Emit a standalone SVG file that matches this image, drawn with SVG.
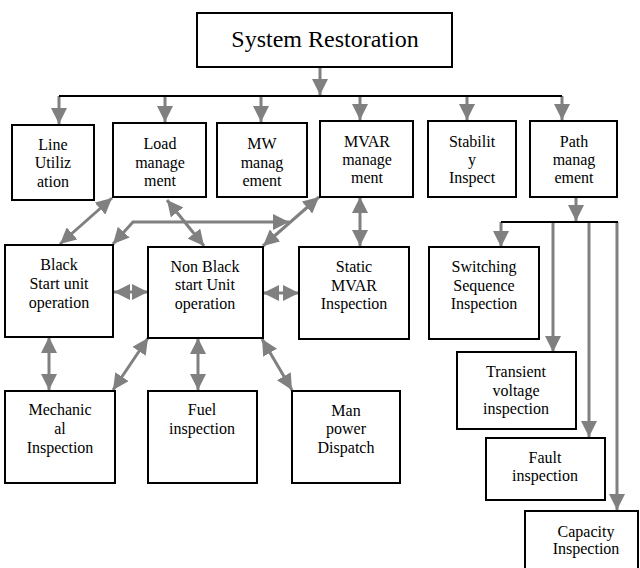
<svg xmlns="http://www.w3.org/2000/svg" width="640" height="568" viewBox="0 0 640 568">
<style>
.box{fill:#fff;stroke:#000;stroke-width:2}
.t{font-family:'Liberation Serif',serif;font-size:16px;fill:#000;text-anchor:middle}
.title{font-size:24px}
.c{stroke:#808080;stroke-width:3;fill:none}
.a{marker-end:url(#ah)}
.d{marker-start:url(#ah);marker-end:url(#ah)}
.bus{stroke:#000;stroke-width:2;fill:none}
</style>
<defs>
<marker id="ah" markerUnits="userSpaceOnUse" markerWidth="16" markerHeight="16" refX="16" refY="8" orient="auto-start-reverse" viewBox="0 0 16 16">
<path d="M0,0 L16,8 L0,16 z" fill="#808080"/>
</marker>
</defs>
<rect width="640" height="568" fill="#fff"/>
<g id="connectors">
<line class="c a" x1="320" y1="67" x2="320" y2="95"/>
<line class="c a" x1="59" y1="96" x2="59" y2="124"/>
<line class="c a" x1="165" y1="96" x2="165" y2="122"/>
<line class="c a" x1="261" y1="96" x2="261" y2="122"/>
<line class="c a" x1="360" y1="96" x2="360" y2="120"/>
<line class="c a" x1="467" y1="96" x2="467" y2="120"/>
<line class="c a" x1="562" y1="96" x2="562" y2="120"/>
<line class="bus" x1="59" y1="96" x2="562" y2="96"/>
<line class="c d" x1="112" y1="198" x2="60" y2="244"/>
<line class="c d" x1="167" y1="200" x2="204" y2="246"/>
<path class="c d" d="M113,244 L133,222 L289,222"/>
<line class="c d" x1="319" y1="197" x2="263" y2="246"/>
<line class="c d" x1="360" y1="197" x2="360" y2="246"/>
<line class="c d" x1="114" y1="292" x2="148" y2="292"/>
<line class="c d" x1="263" y1="293" x2="299" y2="293"/>
<line class="c d" x1="49" y1="337" x2="49" y2="390"/>
<line class="c d" x1="148" y1="338" x2="113" y2="390"/>
<line class="c d" x1="198" y1="338" x2="198" y2="390"/>
<line class="c d" x1="262" y1="339" x2="292" y2="390"/>
<line class="c a" x1="576" y1="197" x2="576" y2="221"/>
<line class="c a" x1="501" y1="222" x2="501" y2="247"/>
<line class="c a" x1="553" y1="222" x2="553" y2="352"/>
<line class="c a" x1="589" y1="222" x2="589" y2="437"/>
<line class="c a" x1="617" y1="222" x2="617" y2="510"/>
<line class="bus" x1="501" y1="222" x2="618" y2="222"/>
</g>
<g id="system-restoration">
<rect class="box" x="197" y="13" width="255" height="54"/>
<text class="t title" x="325" y="47">System Restoration</text>
</g>
<g id="line-utilization">
<rect class="box" x="12" y="125" width="82" height="75"/>
<text class="t" x="53" y="150">Line</text>
<text class="t" x="53" y="168">Utiliz</text>
<text class="t" x="53" y="187">ation</text>
</g>
<g id="load-management">
<rect class="box" x="113" y="123" width="93" height="74"/>
<text class="t" x="160" y="149">Load</text>
<text class="t" x="160" y="167.5">manage</text>
<text class="t" x="160" y="186">ment</text>
</g>
<g id="mw-management">
<rect class="box" x="217" y="123" width="90" height="74"/>
<text class="t" x="262" y="149">MW</text>
<text class="t" x="262" y="167.5">manag</text>
<text class="t" x="262" y="186">ement</text>
</g>
<g id="mvar-management">
<rect class="box" x="320" y="121" width="93" height="76"/>
<text class="t" x="367" y="147">MVAR</text>
<text class="t" x="367" y="165">manage</text>
<text class="t" x="367" y="183">ment</text>
</g>
<g id="stability-inspect">
<rect class="box" x="428" y="121" width="88" height="76"/>
<text class="t" x="472" y="147">Stabilit</text>
<text class="t" x="472" y="165">y</text>
<text class="t" x="472" y="183">Inspect</text>
</g>
<g id="path-management">
<rect class="box" x="530" y="121" width="87" height="76"/>
<text class="t" x="574" y="147">Path</text>
<text class="t" x="574" y="165">manag</text>
<text class="t" x="574" y="183">ement</text>
</g>
<g id="black-start">
<rect class="box" x="5" y="245" width="108" height="92"/>
<text class="t" x="59" y="270">Black</text>
<text class="t" x="59" y="289">Start unit</text>
<text class="t" x="59" y="308">operation</text>
</g>
<g id="non-black-start">
<rect class="box" x="148" y="247" width="115" height="91"/>
<text class="t" x="205" y="272">Non Black</text>
<text class="t" x="205" y="290">start Unit</text>
<text class="t" x="205" y="309">operation</text>
</g>
<g id="static-mvar">
<rect class="box" x="299" y="247" width="110" height="92"/>
<text class="t" x="354" y="272">Static</text>
<text class="t" x="354" y="291">MVAR</text>
<text class="t" x="354" y="309">Inspection</text>
</g>
<g id="switching-sequence">
<rect class="box" x="429" y="247" width="110" height="92"/>
<text class="t" x="484" y="272">Switching</text>
<text class="t" x="484" y="291">Sequence</text>
<text class="t" x="484" y="309">Inspection</text>
</g>
<g id="mechanical">
<rect class="box" x="5" y="391" width="110" height="92"/>
<text class="t" x="60" y="415">Mechanic</text>
<text class="t" x="60" y="434">al</text>
<text class="t" x="60" y="453">Inspection</text>
</g>
<g id="fuel">
<rect class="box" x="148" y="391" width="109" height="92"/>
<text class="t" x="202" y="415">Fuel</text>
<text class="t" x="202" y="434">inspection</text>
</g>
<g id="man-power">
<rect class="box" x="292" y="391" width="108" height="92"/>
<text class="t" x="346" y="416">Man</text>
<text class="t" x="346" y="434">power</text>
<text class="t" x="346" y="453">Dispatch</text>
</g>
<g id="transient-voltage">
<rect class="box" x="457" y="352" width="119" height="77"/>
<text class="t" x="516" y="377">Transient</text>
<text class="t" x="516" y="396">voltage</text>
<text class="t" x="516" y="414">inspection</text>
</g>
<g id="fault">
<rect class="box" x="486" y="438" width="119" height="62"/>
<text class="t" x="545" y="463">Fault</text>
<text class="t" x="545" y="481">inspection</text>
</g>
<g id="capacity">
<rect class="box" x="525" y="511" width="113" height="62"/>
<text class="t" x="586" y="537">Capacity</text>
<text class="t" x="586" y="554">Inspection</text>
</g>
</svg>
